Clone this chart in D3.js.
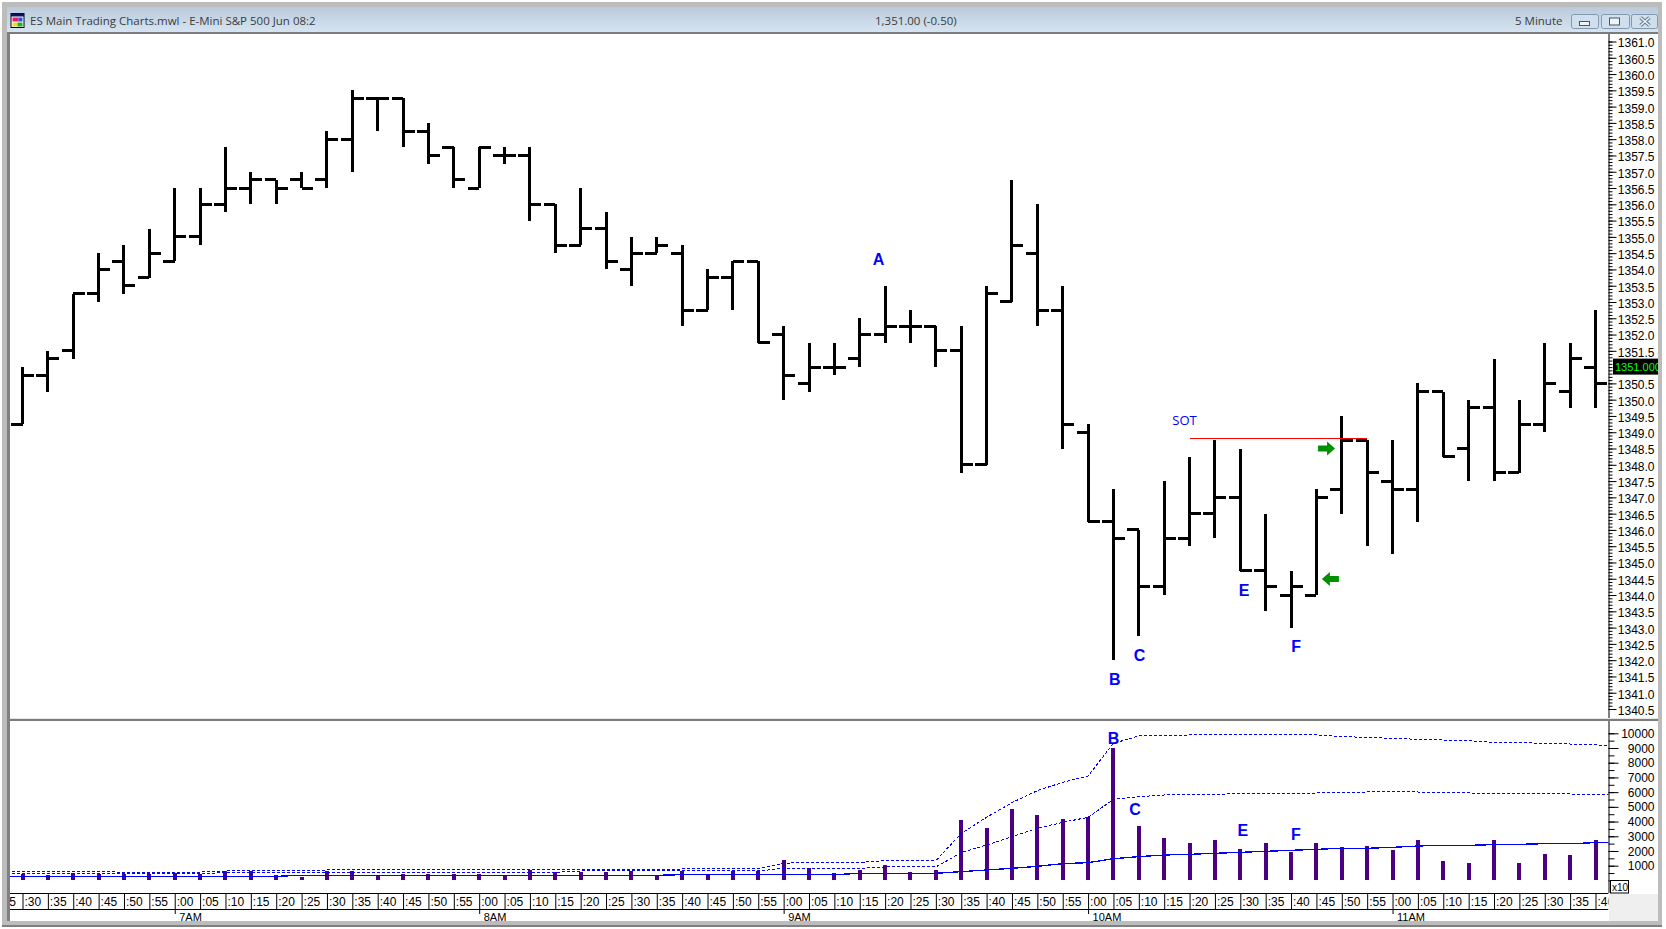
<!DOCTYPE html>
<html>
<head>
<meta charset="utf-8">
<title>ES Main Trading Charts</title>
<script src="https://cdn.jsdelivr.net/npm/d3@7"></script>
<style>
  body { margin: 0; background: #fff; }
  svg { display: block; }
  text { font-family: "Liberation Sans", Arial, sans-serif; }
  .win { font-family: "Open Sans", "Noto Sans", sans-serif; font-size: 11.5px; fill: #3c3c3c; }
  .axis text { font-size: 12px; fill: #000; }
</style>
</head>
<body>
<div id="chart"></div>
<script>
// 5 minute bars, first one is :30 (6:30AM), last one is :40 (11:40AM)
const opens = [1349.25,1350.75,1351.5,1353.25,1354.25,1353.75,1354.25,1355,1356,1356.5,1356.75,1356.75,1356.75,1358,1359.25,1359.25,1358.25,1357.75,1356.5,1357.5,1357.5,1356,1354.75,1355.25,1354,1354.5,1354.5,1352.75,1353.75,1354.25,1352,1350.5,1351,1351.25,1352,1352.25,1352.25,1351.5,1348,1353,1354.5,1352.75,1349,1346.25,1346,1344.25,1345.75,1346.5,1347,1344.75,1344,1344,1347.25,1348.75,1347.5,1347.25,1350.25,1348.5,1349.75,1347.75,1349.25,1350.25,1351];
const highs = [1351,1351.5,1353.25,1354.5,1354.75,1355.25,1356.5,1356.5,1357.75,1357,1356.75,1357,1358.25,1359.5,1359.25,1359.25,1358.5,1357.75,1357.75,1357.75,1357.75,1356,1356.5,1355.75,1355,1355,1354.75,1354,1354.25,1354.25,1352.25,1351.75,1351.75,1352.5,1353.5,1352.75,1352.25,1352.25,1353.5,1356.75,1356,1353.5,1349.25,1347.25,1346,1347.5,1348.25,1348.75,1348.5,1346.5,1344.75,1347.25,1349.5,1348.75,1348.75,1350.5,1350.25,1350,1351.25,1350,1351.75,1351.75,1352.75];
const lows = [1349.25,1350.25,1351.25,1353,1353.25,1353.75,1354.25,1354.75,1355.75,1356,1356,1356.5,1356.5,1357,1358.25,1357.75,1357.25,1356.5,1356.5,1357.25,1355.5,1354.5,1354.75,1354,1353.5,1354.5,1352.25,1352.75,1352.75,1351.75,1350,1350.25,1350.75,1351,1351.75,1351.75,1351,1347.75,1348,1353,1352.25,1348.5,1346.25,1342,1342.75,1344,1345.5,1345.75,1344.75,1343.5,1343,1344,1346.5,1345.5,1345.25,1346.25,1348.25,1347.5,1347.5,1347.75,1349,1349.75,1349.75];
const closes = [1350.75,1351.25,1353.25,1354,1353.5,1354.5,1355,1356,1356.5,1356.75,1356.5,1356.5,1358,1359.25,1359.25,1358.25,1357.5,1356.75,1357.75,1357.5,1356,1354.75,1355.25,1354.25,1354.5,1354.75,1352.75,1353.75,1354.25,1351.75,1350.75,1351,1351,1352,1352.25,1352.25,1351.5,1348,1353.25,1354.75,1352.75,1349.25,1346.25,1345.75,1344.25,1345.75,1346.5,1347,1344.75,1344.25,1344.25,1347,1348.75,1347.75,1347.25,1350.25,1348.25,1349.75,1347.75,1349.25,1350.5,1351.25,1350.5];
const volumes = [415,390,480,430,430,430,520,415,640,610,390,250,640,660,340,455,455,455,455,340,710,550,570,570,640,340,640,390,610,610,1370,810,480,710,1050,550,710,4080,3540,4830,4420,4160,4333,8980,3698,2860,2520,2750,2130,2520,1930,2520,2250,2340,2070,2750,1320,1160,2750,1160,1800,1730,2750];

// volume study lines run one slot wider on each side (:25 ... :45), the plot clips them
const volAvg = [277,277,277,277,277,277,277,277,277,277,277,277,345,345,345,345,345,345,345,345,345,345,345,345,345,345,345,390,390,390,390,390,390,390,481,481,481,481,595,708,821,957,1138,1206,1478,1614,1727,1772,1840,1908,1976,2044,2112,2180,2180,2248,2339,2384,2384,2430,2452,2497,2497,2566,2566];
const volUpper = [617,617,617,617,617,549,549,549,570,640,640,640,640,708,708,708,708,708,708,708,708,708,708,753,760,765,770,775,785,790,798,1161,1229,1229,1229,1342,1342,1342,3200,4288,5285,6100,6667,7098,9318,9817,9862,9885,9885,9885,9885,9885,9885,9771,9726,9658,9590,9545,9500,9386,9363,9318,9273,9205,9190];
const volLower = [458,458,458,458,458,458,458,458,458,526,526,526,526,526,526,526,526,526,526,549,549,549,549,640,640,640,640,640,640,640,640,821,821,821,821,911,911,911,1886,2407,2973,3540,3948,4288,5511,5693,5806,5829,5851,5897,5919,5919,5942,5987,6010,6010,6010,5964,5942,5919,5897,5874,5874,5851,5851];

const timeLabels = [":25",":30",":35",":40",":45",":50",":55",":00",":05",":10",":15",":20",":25",":30",":35",":40",":45",":50",":55",":00",":05",":10",":15",":20",":25",":30",":35",":40",":45",":50",":55",":00",":05",":10",":15",":20",":25",":30",":35",":40",":45",":50",":55",":00",":05",":10",":15",":20",":25",":30",":35",":40",":45",":50",":55",":00",":05",":10",":15",":20",":25",":30",":35",":40"];
const hourLabels = ["7AM","8AM","9AM","10AM","11AM"];

// 1351.0 is left out, the last price flag sits on it
const priceTicks = [1361,1360.5,1360,1359.5,1359,1358.5,1358,1357.5,1357,1356.5,1356,1355.5,1355,1354.5,1354,1353.5,1353,1352.5,1352,1351.5,1350.5,1350,1349.5,1349,1348.5,1348,1347.5,1347,1346.5,1346,1345.5,1345,1344.5,1344,1343.5,1343,1342.5,1342,1341.5,1341,1340.5];
const volumeTicks = [1000,2000,3000,4000,5000,6000,7000,8000,9000,10000];
const lastPrice = 1351;

// annotations: bar position and value they sit at
const priceNotes = [["A",33.74,1354.32],["B",43.05,1341.42],["C",44.03,1342.16],["E",48.15,1344.16],["F",50.2,1342.42]];
const volumeNotes = [["B",43,9660],["C",43.85,4830],["E",48.1,3425],["F",50.19,3160]];
const sotNote = ["SOT",45.8,1349.37];
const sotLine = [46,53,1348.8];
const arrows = [[51.4,1348.5,1],[51.55,1344.49,-1]];

const width = 1666, height = 929;
const svg = d3.select("#chart").append("svg").attr("width", width).attr("height", height);
const defs = svg.append("defs");

function clip(id, x, y, w, h) {
    defs.append("clipPath").attr("id", id).append("rect")
        .attr("x", x).attr("y", y).attr("width", w).attr("height", h);
    return "url(#" + id + ")";
}

const x = d3.scaleLinear().domain([0, 62]).range([22.5, 1595.5]);
const y = d3.scaleLinear().domain([1361, 1340.5]).range([41.5, 709]);
const yVol = d3.scaleLinear().domain([0, 10000]).range([880.4, 733.3]);

const left = 10, right = 1608.5;
const clipPrice = clip("clipPrice", left, 34, right - left, 684);
const clipVol = clip("clipVol", left, 721, right - left, 170);
const clipTime = clip("clipTime", left, 893, right - left, 29);
const clipFlag = clip("clipFlag", 1613, 350, 45, 30);

// ---- window frame
const grad = defs.append("linearGradient").attr("id", "titleGrad").attr("x2", 0).attr("y2", 1);
grad.append("stop").attr("offset", 0).attr("stop-color", "#b9cadb");
grad.append("stop").attr("offset", 1).attr("stop-color", "#d6e4f2");

const frame = svg.append("g");
frame.append("rect").attr("x", 2).attr("y", 2).attr("width", 1660).attr("height", 925).attr("fill", "#bcbcbc");
frame.append("rect").attr("x", 7).attr("y", 7).attr("width", 1651).attr("height", 918).attr("fill", "#808080");
frame.append("rect").attr("x", 7).attr("y", 7).attr("width", 1651).attr("height", 25).attr("fill", "url(#titleGrad)");
frame.append("rect").attr("x", 7).attr("y", 32).attr("width", 1651).attr("height", 2).attr("fill", "#7c7c7c");
frame.append("rect").attr("x", 10).attr("y", 34).attr("width", 1648).attr("height", 888).attr("fill", "#fff");
frame.append("rect").attr("x", 7).attr("y", 921).attr("width", 1655).attr("height", 4).attr("fill", "#bcbcbc");
frame.append("rect").attr("x", 2).attr("y", 925).attr("width", 1660).attr("height", 2).attr("fill", "#808080");
frame.append("rect").attr("x", 10).attr("y", 718).attr("width", 1648).attr("height", 1).attr("fill", "#e6e6e6");
frame.append("rect").attr("x", 10).attr("y", 719).attr("width", 1648).attr("height", 2).attr("fill", "#7c7c7c");
frame.append("rect").attr("x", 1609).attr("y", 894).attr("width", 49).attr("height", 27).attr("fill", "#efefef");

// title bar icon and caption buttons
const icon = frame.append("g").attr("transform", "translate(11,13.5)");
icon.append("rect").attr("width", 13).attr("height", 14).attr("fill", "#fff").attr("stroke", "#000");
icon.append("rect").attr("x", 0).attr("width", 13).attr("height", 3).attr("fill", "#101060");
icon.append("rect").attr("x", 1.5).attr("y", 4).attr("width", 6).attr("height", 4).attr("fill", "#f0147a");
icon.append("rect").attr("x", 7.5).attr("y", 4).attr("width", 4).attr("height", 4).attr("fill", "#2a50e0");
icon.append("rect").attr("x", 1.5).attr("y", 9).attr("width", 5).attr("height", 4).attr("fill", "#e8e020");
icon.append("rect").attr("x", 6.5).attr("y", 9).attr("width", 5).attr("height", 4).attr("fill", "#22b030");

frame.append("text").attr("class", "win").attr("x", 30).attr("y", 25).text("ES Main Trading Charts.mwl - E-Mini S&P 500 Jun 08:2");
frame.append("text").attr("class", "win").attr("x", 875).attr("y", 25).text("1,351.00 (-0.50)");
frame.append("text").attr("class", "win").attr("x", 1515).attr("y", 25).text("5 Minute");

[[1571.5, 27], [1601.5, 28], [1631.5, 26]].forEach(function (b, i) {
    const g = frame.append("g").attr("transform", "translate(" + b[0] + ",14.5)");
    g.append("rect").attr("width", b[1]).attr("height", 14).attr("rx", 2)
        .attr("fill", "#cfdfee").attr("stroke", "#8299b0");
    if (i == 0) g.append("rect").attr("x", 8).attr("y", 7).attr("width", 10).attr("height", 4).attr("fill", "#eef3f8").attr("stroke", "#44586c");
    if (i == 1) g.append("rect").attr("x", 8).attr("y", 3.5).attr("width", 10).attr("height", 7).attr("fill", "#eef3f8").attr("stroke", "#44586c");
    if (i == 2) {
        g.append("path").attr("d", "M9,3L18,11M18,3L9,11").attr("stroke", "#66788a").attr("stroke-width", 3.5);
        g.append("path").attr("d", "M9,3L18,11M18,3L9,11").attr("stroke", "#eef3f8").attr("stroke-width", 1.5);
    }
});

// ---- price pane
const pricePlot = svg.append("g").attr("clip-path", clipPrice);
const bars = pricePlot.selectAll("g.bar").data(opens).enter().append("g").attr("class", "bar")
    .attr("shape-rendering", "crispEdges").attr("stroke", "#000").attr("stroke-width", 3);
bars.append("line").attr("x1", (d, i) => x(i)).attr("x2", (d, i) => x(i))
    .attr("y1", (d, i) => y(highs[i])).attr("y2", (d, i) => y(lows[i]));
bars.append("line").attr("x1", (d, i) => x(i) - 11.5).attr("x2", (d, i) => x(i))
    .attr("y1", d => y(d)).attr("y2", d => y(d));
bars.append("line").attr("x1", (d, i) => x(i)).attr("x2", (d, i) => x(i) + 11.5)
    .attr("y1", (d, i) => y(closes[i])).attr("y2", (d, i) => y(closes[i]));

pricePlot.append("line").attr("x1", x(sotLine[0])).attr("x2", x(sotLine[1]))
    .attr("y1", y(sotLine[2])).attr("y2", y(sotLine[2]))
    .attr("stroke", "#ff0000").attr("stroke-width", 1).attr("shape-rendering", "crispEdges");

pricePlot.selectAll("text.note").data(priceNotes).enter().append("text").attr("class", "note")
    .attr("x", d => x(d[1])).attr("y", d => y(d[2])).attr("dy", "0.36em")
    .attr("text-anchor", "middle").attr("font-size", 16).attr("font-weight", "bold").attr("fill", "#0000ff")
    .text(d => d[0]);
pricePlot.append("text").attr("x", x(sotNote[1])).attr("y", y(sotNote[2])).attr("dy", "0.36em")
    .attr("text-anchor", "middle").attr("font-size", 13).attr("fill", "#0000ff")
    .style("font-family", "'Open Sans', sans-serif").text(sotNote[0]);

pricePlot.selectAll("path.arrow").data(arrows).enter().append("path").attr("class", "arrow")
    .attr("transform", d => "translate(" + x(d[0]) + "," + y(d[1]) + ") scale(" + d[2] + ",1)")
    .attr("d", "M-8.5,-3L0.5,-3L0.5,-7L8.5,0L0.5,7L0.5,3L-8.5,3Z").attr("fill", "#009000");

// price axis with the minor ticks under it
const axisPriceMinor = d3.axisRight(y).tickValues(d3.range(0, 206).map(d => 1361 - d / 10)).tickSize(4).tickFormat("");
svg.append("g").attr("class", "axis").attr("transform", "translate(" + right + ",0)").call(axisPriceMinor)
    .call(g => g.select(".domain").remove());
const axisPrice = d3.axisRight(y).tickValues(priceTicks).tickSize(8).tickPadding(0).tickFormat(d3.format(".1f"));
const gPrice = svg.append("g").attr("class", "axis").attr("transform", "translate(" + right + ",0)").call(axisPrice);
gPrice.select(".domain").attr("d", "M0.5,34V718");
gPrice.selectAll("text").attr("x", 46).attr("dy", "0.45em").attr("text-anchor", "end");

// last price flag
const flag = svg.append("g").attr("clip-path", clipFlag);
flag.append("rect").attr("x", 1613).attr("y", y(lastPrice) - 8.5).attr("width", 45).attr("height", 16).attr("fill", "#000");
flag.append("text").attr("x", 1615).attr("y", y(lastPrice)).attr("dy", "0.36em")
    .attr("font-size", 11).attr("fill", "#00ff00").text(d3.format(".3f")(lastPrice));

// ---- volume pane
const volPlot = svg.append("g").attr("clip-path", clipVol);
volPlot.selectAll("rect.vol").data(volumes).enter().append("rect").attr("class", "vol")
    .attr("x", (d, i) => x(i) - 2).attr("width", 4)
    .attr("y", d => yVol(d)).attr("height", d => yVol(0) - yVol(d))
    .attr("fill", "#4b0082").attr("shape-rendering", "crispEdges");

const volLine = d3.line().x((d, i) => x(i - 1)).y(d => yVol(d));
volPlot.append("path").attr("d", volLine(volUpper)).attr("fill", "none").attr("stroke", "#0000ff")
    .attr("stroke-width", 1).attr("stroke-dasharray", "3,2").attr("shape-rendering", "crispEdges");
volPlot.append("path").attr("d", volLine(volLower)).attr("fill", "none").attr("stroke", "#0000ff")
    .attr("stroke-width", 1).attr("stroke-dasharray", "3,2").attr("shape-rendering", "crispEdges");
volPlot.append("path").attr("d", volLine(volAvg)).attr("fill", "none").attr("stroke", "#0000ff")
    .attr("stroke-width", 1.3).attr("shape-rendering", "crispEdges");

volPlot.selectAll("text.note").data(volumeNotes).enter().append("text").attr("class", "note")
    .attr("x", d => x(d[1])).attr("y", d => yVol(d[2])).attr("dy", "0.36em")
    .attr("text-anchor", "middle").attr("font-size", 16).attr("font-weight", "bold").attr("fill", "#0000ff")
    .text(d => d[0]);

const axisVolMinor = d3.axisRight(yVol).tickValues(d3.range(0, 10500, 500)).tickSize(6).tickFormat("");
svg.append("g").attr("class", "axis").attr("transform", "translate(" + right + ",0)").call(axisVolMinor)
    .call(g => g.select(".domain").remove());
const axisVol = d3.axisRight(yVol).tickValues(volumeTicks).tickSize(10).tickFormat(d3.format("d"));
const gVol = svg.append("g").attr("class", "axis").attr("transform", "translate(" + right + ",0)").call(axisVol);
gVol.select(".domain").attr("d", "M0.5,721V893");
gVol.selectAll("text").attr("x", 46).attr("dy", "0.34em").attr("text-anchor", "end");

// x10 box
svg.append("rect").attr("x", 1610.5).attr("y", 880.5).attr("width", 18).attr("height", 12.5).attr("fill", "#fff").attr("stroke", "#000");
svg.append("text").attr("x", 1612).attr("y", 891).attr("font-size", 10).text("x10");

// ---- time axis
const slots = timeLabels.map((d, i) => i - 1);
const gTimeWrap = svg.append("g").attr("clip-path", clipTime);
const axisTime = d3.axisBottom(x).tickValues(slots).tickSize(16).tickFormat(d => timeLabels[d + 1]);
const gTime = gTimeWrap.append("g").attr("class", "axis").attr("transform", "translate(0,893)").call(axisTime);
gTime.select(".domain").remove();
gTime.selectAll("text").attr("x", 1.5).attr("y", 4).attr("text-anchor", "start");

gTimeWrap.append("line").attr("x1", left).attr("x2", right).attr("y1", 893.5).attr("y2", 893.5).attr("stroke", "#000");
gTimeWrap.append("line").attr("x1", left).attr("x2", right).attr("y1", 909.5).attr("y2", 909.5).attr("stroke", "#000");

// hour ticks under the :00 slots
const hourSlots = slots.filter(d => timeLabels[d + 1] == ":00");
const axisHour = d3.axisBottom(x).tickValues(hourSlots).tickSize(5).tickFormat((d, i) => hourLabels[i]);
const gHour = gTimeWrap.append("g").attr("class", "axis").attr("transform", "translate(0,909)").call(axisHour);
gHour.select(".domain").remove();
gHour.selectAll("text").attr("x", 4).attr("y", 4).attr("text-anchor", "start").style("font-size", "11px");
</script>
</body>
</html>
